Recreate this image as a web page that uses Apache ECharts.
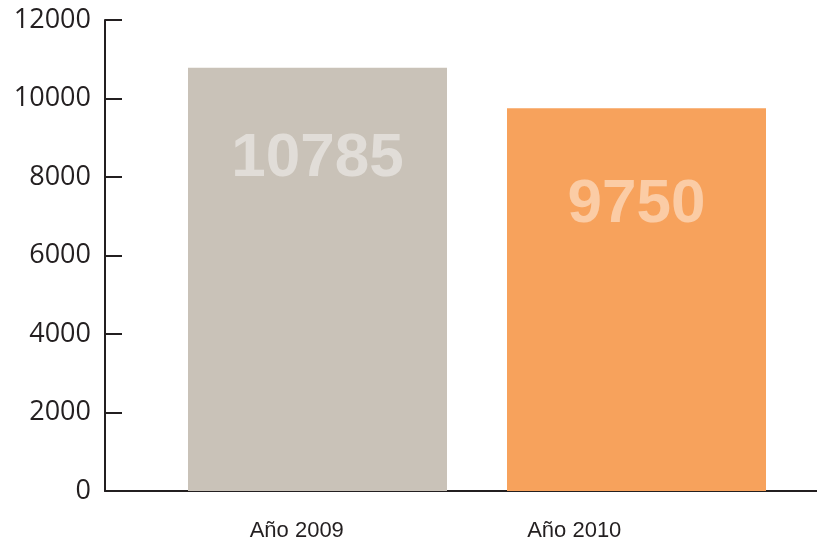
<!DOCTYPE html>
<html>
<head>
<meta charset="utf-8">
<script src="https://cdn.jsdelivr.net/npm/echarts@6/dist/echarts.min.js"></script>
<style>
  html, body { margin: 0; padding: 0; background: #fff; }
  #chart { width: 817px; height: 543px; }
</style>
</head>
<body>
<div id="chart"></div>
<script>
// datos
var categories = ["Año 2009", "Año 2010"];
var values = [10785, 9750];
var yTicks = [0, 2000, 4000, 6000, 8000, 10000, 12000];

// estilos
var barColors = ["#c9c2b8", "#f7a25c"];
var labelTop = [91, 97]; // distancia del texto al borde superior de la barra
var ink = "#231f20";

var myChart = echarts.init(document.getElementById("chart"));

var option = {
  animation: false,
  grid: [
    // eje y + linea base
    { left: 105, right: 0, top: 20, bottom: 52 },
    // barras
    { left: 158, right: 21, top: 20, bottom: 52 },
    // etiquetas de categoria
    { left: 158, right: 104, top: 20, bottom: 52 }
  ],
  xAxis: [
    {
      gridIndex: 0,
      type: "category",
      data: categories,
      axisLine: { show: true, lineStyle: { color: ink, width: 2 } },
      axisTick: { show: false },
      axisLabel: { show: false }
    },
    {
      gridIndex: 1,
      type: "category",
      data: categories,
      axisLine: { show: false },
      axisTick: { show: false },
      axisLabel: { show: false }
    },
    {
      gridIndex: 2,
      type: "category",
      data: categories,
      axisLine: { show: false },
      axisTick: { show: false },
      axisLabel: {
        color: ink,
        fontSize: 22,
        fontFamily: "Liberation Sans, Arial, sans-serif",
        margin: 29
      }
    }
  ],
  yAxis: [
    {
      gridIndex: 0,
      type: "value",
      min: yTicks[0],
      max: yTicks[yTicks.length - 1],
      interval: 2000,
      axisLine: { show: true, lineStyle: { color: ink, width: 2 } },
      axisTick: { show: true, inside: true, length: 17, lineStyle: { color: ink, width: 2 } },
      axisLabel: {
        color: ink,
        fontSize: 27,
        fontFamily: "Open Sans, Noto Sans, sans-serif",
        margin: 14,
        padding: [6, 0, 0, 0],
        formatter: function (v) { return String(v); }
      },
      splitLine: { show: false }
    },
    {
      gridIndex: 1,
      type: "value",
      min: yTicks[0],
      max: yTicks[yTicks.length - 1],
      show: false
    },
    {
      gridIndex: 2,
      type: "value",
      min: yTicks[0],
      max: yTicks[yTicks.length - 1],
      show: false
    }
  ],
  series: [
    {
      type: "bar",
      xAxisIndex: 1,
      yAxisIndex: 1,
      barWidth: 259,
      data: values.map(function (v, i) {
        return {
          value: v,
          itemStyle: { color: barColors[i] },
          label: { position: ["50%", labelTop[i]] }
        };
      }),
      label: {
        show: true,
        align: "center",
        verticalAlign: "middle",
        color: "rgba(255,255,255,0.45)",
        fontSize: 62,
        fontWeight: "bold",
        fontFamily: "Liberation Sans, Arial, sans-serif"
      }
    }
  ]
};

myChart.setOption(option);
</script>
</body>
</html>
